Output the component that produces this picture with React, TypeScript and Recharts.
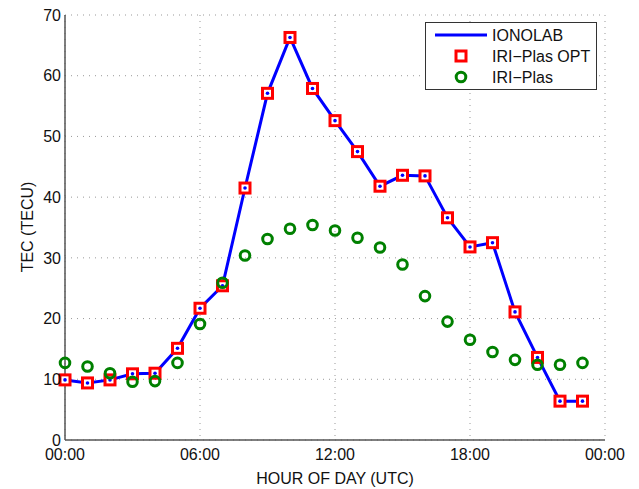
import { ComposedChart, Line, Scatter, XAxis, YAxis, CartesianGrid, Legend, Label } from 'recharts';

const hours = [0, 1, 2, 3, 4, 5, 6, 7, 8, 9, 10, 11, 12, 13, 14, 15, 16, 17, 18, 19, 20, 21, 22, 23];
const ionolab = [9.9, 9.4, 9.9, 10.9, 11.0, 15.1, 21.7, 25.4, 41.5, 57.1, 66.3, 57.9, 52.6, 47.5, 41.8, 43.6, 43.5, 36.6, 31.8, 32.5, 21.1, 13.6, 6.4, 6.4];
const iriPlasOpt = [9.9, 9.4, 9.9, 10.9, 11.0, 15.1, 21.7, 25.4, 41.5, 57.1, 66.3, 57.9, 52.6, 47.5, 41.8, 43.6, 43.5, 36.6, 31.8, 32.5, 21.1, 13.6, 6.4, 6.4];
const iriPlas = [12.7, 12.1, 11.0, 9.6, 9.7, 12.7, 19.1, 25.9, 30.4, 33.1, 34.8, 35.4, 34.5, 33.3, 31.7, 28.9, 23.7, 19.5, 16.5, 14.5, 13.2, 12.4, 12.4, 12.7];

const xTicks = [0, 6, 12, 18, 24];
const xTickLabels = ['00:00', '06:00', '12:00', '18:00', '00:00'];
const yTicks = [0, 10, 20, 30, 40, 50, 60, 70];

const data = hours.map((h, i) => ({ hour: h, ionolab: ionolab[i], opt: iriPlasOpt[i], iri: iriPlas[i] }));

const FONT = '"Liberation Sans", Arial, Helvetica, sans-serif';
const tickStyle = { fill: '#111', fontSize: 16, fontFamily: FONT };
const frame = { stroke: '#555', strokeWidth: 1.5 };

const Square = (props: any) => {
    const { cx, cy } = props;
    if (cx == null || cy == null) return null;
    return (
        <g>
            <rect x={cx - 5} y={cy - 5} width={10} height={10} fill="#fff" stroke="#ff0000" strokeWidth={3} />
            <circle cx={cx} cy={cy} r={1.8} fill="#0000ff" />
        </g>
    );
};

const Ring = (props: any) => {
    const { cx, cy } = props;
    if (cx == null || cy == null) return null;
    return <circle cx={cx} cy={cy} r={4.8} fill="none" stroke="#008000" strokeWidth={3} />;
};

const LegendBox = () => (
    <svg width={172} height={68} style={{ display: 'block' }}>
        <rect x={0.5} y={0.5} width={171} height={67} fill="#fff" stroke="#333" strokeWidth={1} />
        <line x1={10} y1={13} x2={62} y2={13} stroke="#0000ff" strokeWidth={3} />
        <text x={67} y={19} fontSize={16} fontFamily={FONT} fill="#111">IONOLAB</text>
        <rect x={31} y={29} width={10} height={10} fill="#fff" stroke="#ff0000" strokeWidth={3} />
        <text x={67} y={40} fontSize={16} fontFamily={FONT} fill="#111">IRI−Plas OPT</text>
        <circle cx={36} cy={55} r={4.8} fill="none" stroke="#008000" strokeWidth={3} />
        <text x={67} y={61} fontSize={16} fontFamily={FONT} fill="#111">IRI−Plas</text>
    </svg>
);

export default function App() {
    return (
        <div style={{ position: 'absolute', left: 0, top: 0, width: 639, height: 489, background: '#fff' }}>
            <ComposedChart width={639} height={489} data={data} margin={{ top: 15, right: 34, bottom: 19, left: 15 }}>
                <CartesianGrid stroke="#999" strokeDasharray="1 5" />
                {/* inward tick marks on all four sides */}
                <XAxis xAxisId="bin" orientation="bottom" type="number" domain={[0, 24]} ticks={xTicks} height={0}
                    mirror tick={false} tickSize={5} tickLine={frame} axisLine={false} />
                <YAxis yAxisId="lin" orientation="left" type="number" domain={[0, 70]} ticks={yTicks} width={0}
                    mirror tick={false} tickSize={5} tickLine={frame} axisLine={false} />
                <XAxis dataKey="hour" type="number" domain={[0, 24]} ticks={xTicks} height={30}
                    tickFormatter={(v: number) => xTickLabels[xTicks.indexOf(v)]}
                    tick={tickStyle} tickLine={false} tickSize={0} tickMargin={9} axisLine={frame}>
                    <Label content={() => (
                        <text x={335} y={484} textAnchor="middle" fontSize={16} fontFamily={FONT} fill="#111">HOUR OF DAY (UTC)</text>
                    )} />
                </XAxis>
                <YAxis type="number" domain={[0, 70]} ticks={yTicks} width={50}
                    tick={tickStyle} tickLine={false} tickSize={0} tickMargin={4} axisLine={frame}>
                    <Label content={() => (
                        <text x={33} y={227} textAnchor="middle" transform="rotate(-90 33 227)" fontSize={16} fontFamily={FONT} fill="#111">TEC (TECU)</text>
                    )} />
                </YAxis>
                <XAxis xAxisId="top" orientation="top" type="number" domain={[0, 24]} ticks={xTicks} height={0}
                    mirror tick={false} tickSize={5} tickLine={frame} axisLine={frame} />
                <YAxis yAxisId="right" orientation="right" type="number" domain={[0, 70]} ticks={yTicks} width={0}
                    mirror tick={false} tickSize={5} tickLine={frame} axisLine={frame} />
                <Legend layout="horizontal" verticalAlign="middle" align="center"
                    wrapperStyle={{ position: 'absolute', left: 425, top: 22, width: 172, height: 68 }}
                    content={() => <LegendBox />} />
                <Line dataKey="ionolab" stroke="#0000ff" strokeWidth={3} dot={false} isAnimationActive={false} />
                <Scatter dataKey="opt" shape={Square} isAnimationActive={false} />
                <Scatter dataKey="iri" shape={Ring} isAnimationActive={false} />
            </ComposedChart>
        </div>
    );
}
